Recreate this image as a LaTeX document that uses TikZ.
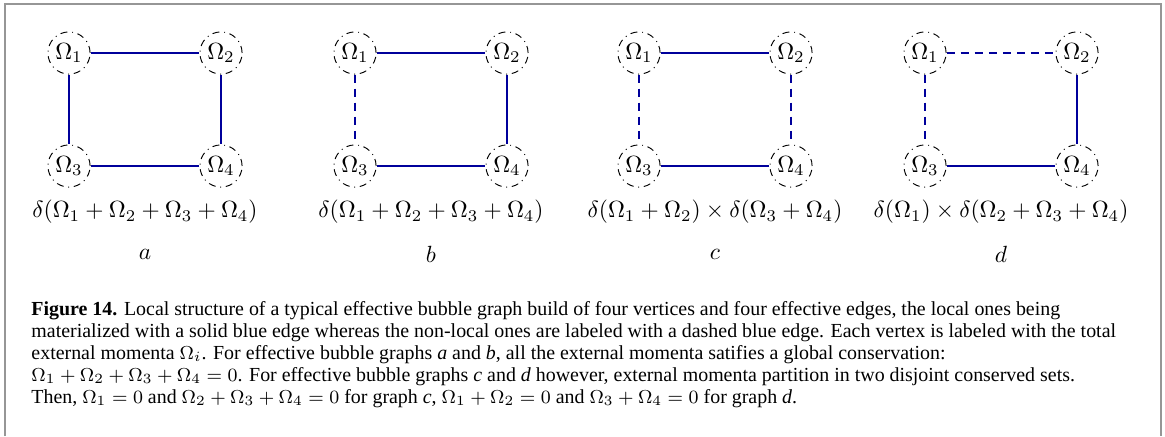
\documentclass[tikz,border=0pt]{standalone}
\usepackage{fontspec}
\newfontfamily\capfont{Liberation Serif}
\usetikzlibrary{positioning}
\definecolor{edgeblue}{RGB}{0,0,155}
\definecolor{framegray}{RGB}{150,150,150}
\tikzset{
  vertex/.style={circle,draw,thin,dash dot,minimum size=18pt,inner sep=0pt},
  loc/.style={edgeblue,line width=1pt},
  nonloc/.style={edgeblue,line width=1pt,dash pattern=on 3.4pt off 2.6pt},
  capline/.style={anchor=base west,inner sep=0pt,font=\capfont\fontsize{8.5}{10}\selectfont},
}
\begin{document}
\begin{tikzpicture}[x=0.015cm, y=-0.015cm]
  \useasboundingbox (0,0) rectangle (1165,436);
  % Frame
  \draw[framegray,line width=0.9pt] (5,436) -- (5,4) -- (1161,4) -- (1161,436);
  % Four bubble graphs: top, left, right, bottom edges
  \foreach \g/\cx/\st/\sl/\sr/\sb in {a/69/loc/loc/loc/loc, b/355/loc/nonloc/loc/loc,
      c/639/loc/nonloc/nonloc/loc, d/925/nonloc/nonloc/loc/loc} {
    \node[vertex] (\g1) at (\cx,53) {$\Omega_1$};
    \node[vertex] (\g2) at (\cx+152,53) {$\Omega_2$};
    \node[vertex] (\g3) at (\cx,166) {$\Omega_3$};
    \node[vertex] (\g4) at (\cx+152,166) {$\Omega_4$};
    \draw[\st] (\g1) -- (\g2);
    \draw[\sl] (\g1) -- (\g3);
    \draw[\sr] (\g2) -- (\g4);
    \draw[\sb] (\g3) -- (\g4);
    \node (l\g) at (\cx+76,254) {$\g$};
  }
  % Conservation laws
  \node (fa) at (145,212) {$\delta(\Omega_1+\Omega_2+\Omega_3+\Omega_4)$};
  \node (fb) at (431,212) {$\delta(\Omega_1+\Omega_2+\Omega_3+\Omega_4)$};
  \node (fc) at (715,212) {$\delta(\Omega_1+\Omega_2)\times\delta(\Omega_3+\Omega_4)$};
  \node (fd) at (1001,212) {$\delta(\Omega_1)\times\delta(\Omega_2+\Omega_3+\Omega_4)$};
  % Caption
  \node[capline] (cap1) at (31,315) {\textbf{Figure 14.} Local structure of a typical effective bubble graph build of four vertices and four effective edges, the local ones being};
  \node[capline] (cap2) at (31,337) {materialized with a solid blue edge whereas the non-local ones are labeled with a dashed blue edge. Each vertex is labeled with the total};
  \node[capline] (cap3) at (31,359) {external momenta $\Omega_i$. For effective bubble graphs \textit{a} and \textit{b}, all the external momenta satifies a global conservation:};
  \node[capline] (cap4) at (31,381) {$\Omega_1+\Omega_2+\Omega_3+\Omega_4=0$. For effective bubble graphs \textit{c} and \textit{d} however, external momenta partition in two disjoint conserved sets.};
  \node[capline] (cap5) at (31,403) {Then, $\Omega_1=0$ and $\Omega_2+\Omega_3+\Omega_4=0$ for graph \textit{c}, $\Omega_1+\Omega_2=0$ and $\Omega_3+\Omega_4=0$ for graph \textit{d}.};
\end{tikzpicture}
\end{document}
